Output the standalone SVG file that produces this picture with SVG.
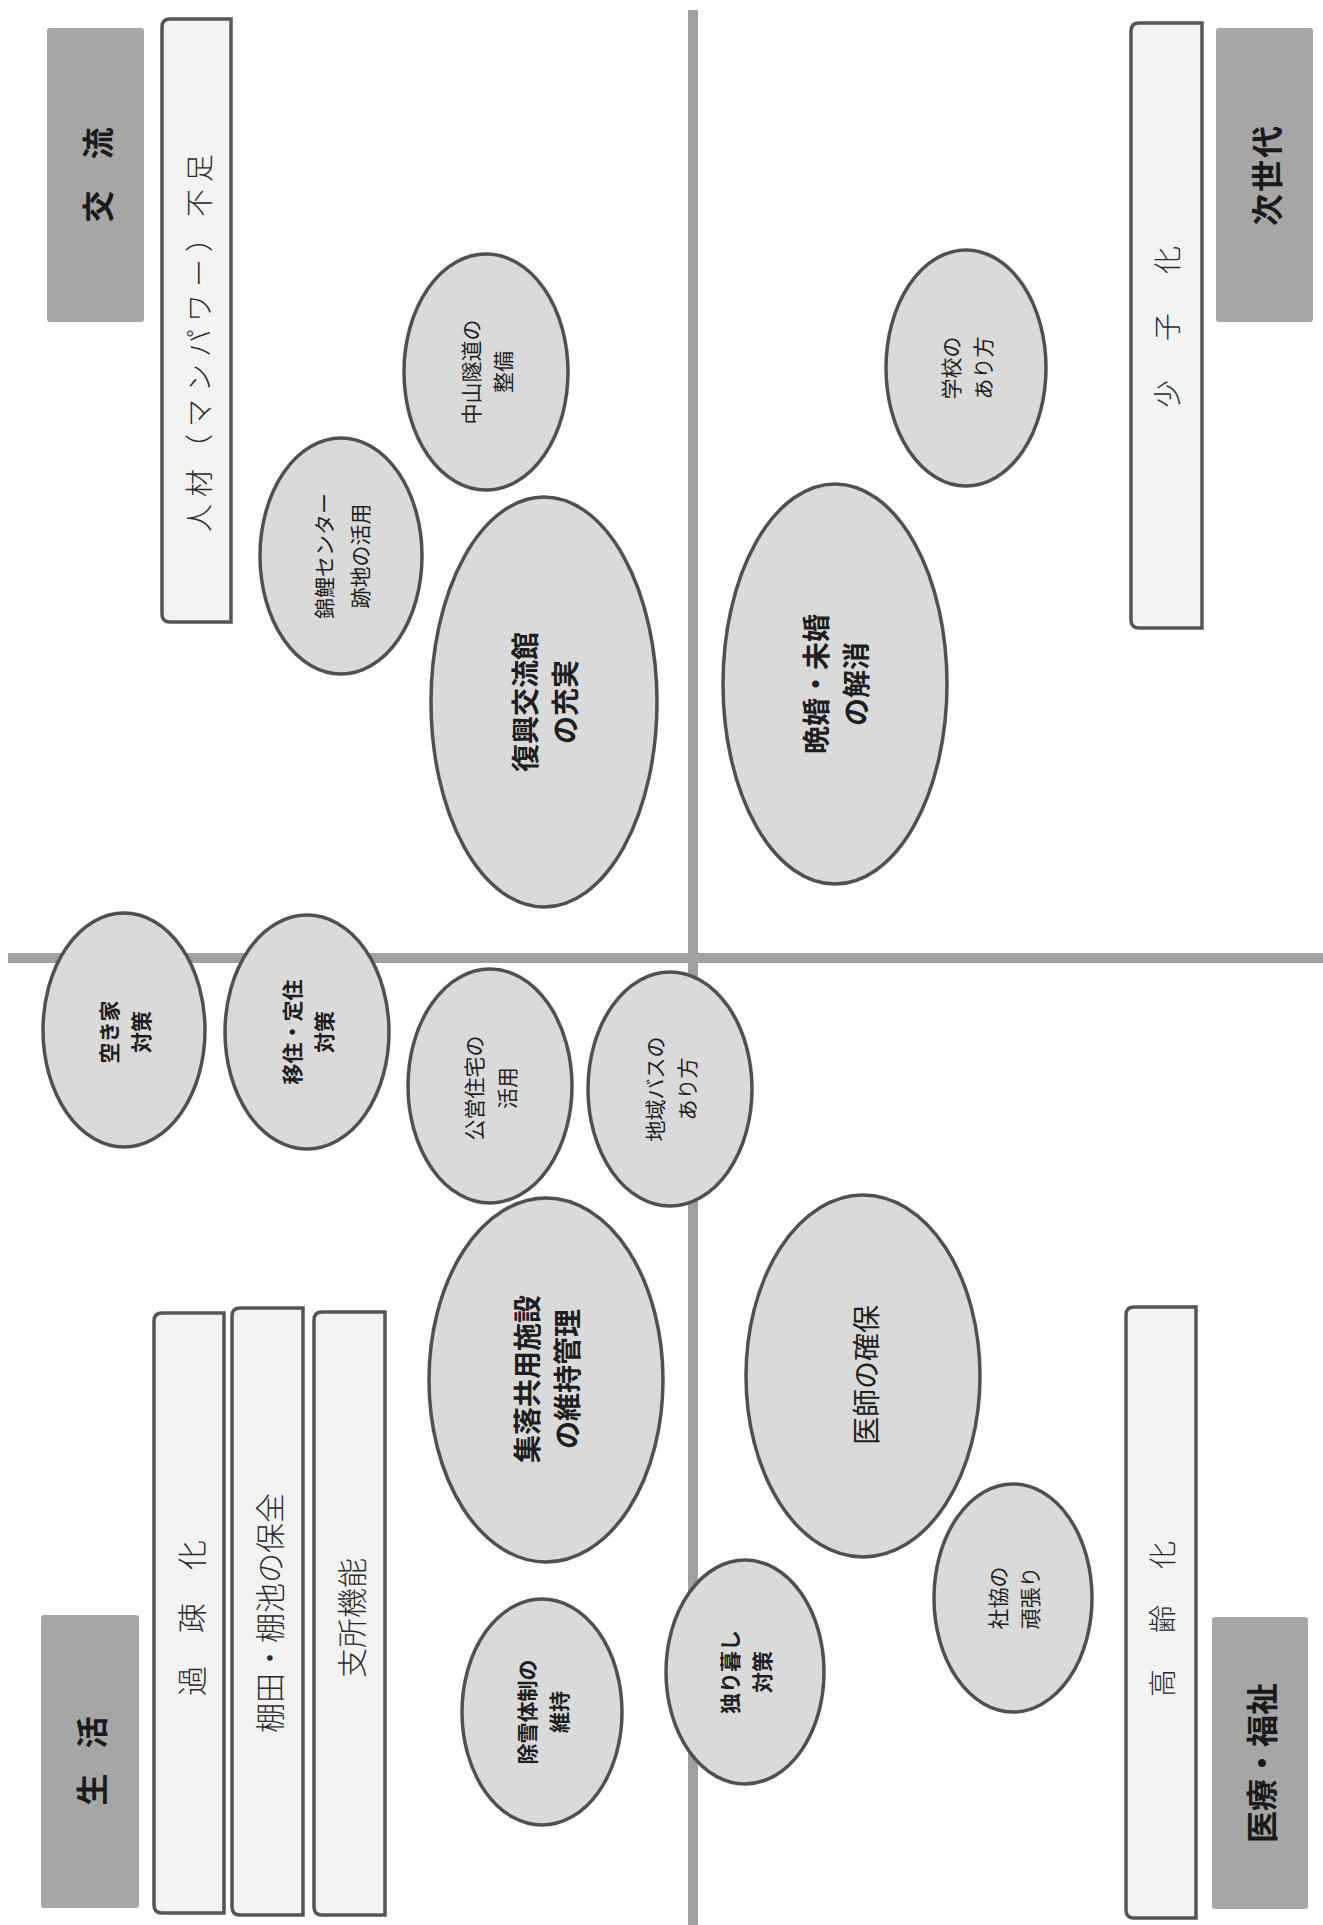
<svg xmlns="http://www.w3.org/2000/svg" width="1323" height="1925" viewBox="0 0 1323 1925">
<style>
.bg{fill:#ffffff}
.div{stroke:#a0a0a0;stroke-width:10;fill:none}
.hdr{fill:#a6a6a6}
.hdrt{font-family:"Noto Sans CJK JP","Noto Sans",sans-serif;font-weight:bold;font-size:32px;fill:#1a1a1a;text-anchor:middle;dominant-baseline:central}
.bar{fill:#f3f3f3;stroke:#555555;stroke-width:3.5}
.bart{font-family:"Noto Sans CJK JP","Noto Sans",sans-serif;font-weight:300;font-size:30px;fill:#2a2a2a;text-anchor:middle;dominant-baseline:central}
.el{fill:#dadada;stroke:#505050;stroke-width:3.5}
.et{font-family:"Noto Sans CJK JP","Noto Sans",sans-serif;font-size:21px;fill:#1e1e1e;text-anchor:middle;dominant-baseline:central}
.eb{font-weight:bold}
.big{font-size:28px}
</style>
<rect class="bg" x="0" y="0" width="1323" height="1925"/>
<g id="connectors">
<line class="div" x1="693" y1="10" x2="693" y2="1925"/>
<line class="div" x1="8" y1="958" x2="1323" y2="958"/>
</g>
<g id="hdr-koryu"><rect class="hdr" x="47" y="28" width="97" height="294" rx="3"/><text class="hdrt" transform="translate(95.5,175) rotate(-90)" letter-spacing="31"><tspan x="15.5" y="0">交流</tspan></text></g>
<g id="hdr-seikatsu"><rect class="hdr" x="41" y="1615" width="98" height="293" rx="3"/><text class="hdrt" transform="translate(90,1761) rotate(-90)" letter-spacing="25"><tspan x="12.5" y="0">生活</tspan></text></g>
<g id="hdr-jisedai"><rect class="hdr" x="1216" y="28" width="97" height="294" rx="3"/><text class="hdrt" transform="translate(1264.5,176) rotate(-90)" letter-spacing="2"><tspan x="1" y="0">次世代</tspan></text></g>
<g id="hdr-iryo"><rect class="hdr" x="1212" y="1617" width="96" height="292" rx="3"/><text class="hdrt" transform="translate(1260,1763) rotate(-90)"><tspan x="0" y="0">医療・福祉</tspan></text></g>
<g id="bar-jinzai"><path class="bar" d="M170,19 H231 V622 H170 Q162,622 162,614 V27 Q162,19 170,19 Z"/><text class="bart" style="font-size:28px" transform="translate(198,343) rotate(-90)" letter-spacing="7"><tspan x="3.5" y="0">人材（マンパワー）不足</tspan></text></g>
<g id="bar-kaso"><path class="bar" d="M162,1313 H224 V1913 H162 Q154,1913 154,1905 V1321 Q154,1313 162,1313 Z"/><text class="bart" transform="translate(190,1618) rotate(-90)" letter-spacing="33"><tspan x="16.5" y="0">過疎化</tspan></text></g>
<g id="bar-tanada"><path class="bar" d="M240,1308 H303 V1915 H240 Q232,1915 232,1907 V1316 Q232,1308 240,1308 Z"/><text class="bart" transform="translate(268,1613) rotate(-90)"><tspan x="0" y="0">棚田・棚池の保全</tspan></text></g>
<g id="bar-shisho"><path class="bar" d="M322,1312 H385 V1915 H322 Q314,1915 314,1907 V1320 Q314,1312 322,1312 Z"/><text class="bart" transform="translate(350,1618) rotate(-90)"><tspan x="0" y="0">支所機能</tspan></text></g>
<g id="bar-shoshika"><path class="bar" d="M1139,23 H1202 V628 H1139 Q1131,628 1131,620 V31 Q1131,23 1139,23 Z"/><text class="bart" style="font-size:28px" transform="translate(1166,327) rotate(-90)" letter-spacing="39"><tspan x="19.5" y="0">少子化</tspan></text></g>
<g id="bar-koreika"><path class="bar" d="M1134,1307 H1196 V1918 H1134 Q1126,1918 1126,1910 V1315 Q1126,1307 1134,1307 Z"/><text class="bart" style="font-size:28px" transform="translate(1161,1619) rotate(-90)" letter-spacing="36"><tspan x="18" y="0">高齢化</tspan></text></g>
<g id="n-akiya"><ellipse class="el" cx="124" cy="1030" rx="81" ry="117"/><text class="et eb" transform="translate(124,1032) rotate(-90)"><tspan x="0" y="-16">空き家</tspan><tspan x="0" y="16">対策</tspan></text></g>
<g id="n-iju"><ellipse class="el" cx="307" cy="1032" rx="82" ry="117"/><text class="et eb" transform="translate(307,1032) rotate(-90)"><tspan x="0" y="-16">移住・定住</tspan><tspan x="0" y="16">対策</tspan></text></g>
<g id="n-koei"><ellipse class="el" cx="490" cy="1086" rx="82" ry="117"/><text class="et" transform="translate(490,1088) rotate(-90)"><tspan x="0" y="-17">公営住宅の</tspan><tspan x="0" y="16">活用</tspan></text></g>
<g id="n-bus"><ellipse class="el" cx="670" cy="1089" rx="82" ry="117"/><text class="et" transform="translate(670,1089) rotate(-90)"><tspan x="0" y="-16">地域バスの</tspan><tspan x="0" y="16">あり方</tspan></text></g>
<g id="n-shuraku"><ellipse class="el" cx="546" cy="1380" rx="117" ry="182"/><text class="et eb big" transform="translate(546,1379) rotate(-90)"><tspan x="0" y="-20">集落共用施設</tspan><tspan x="0" y="20">の維持管理</tspan></text></g>
<g id="n-josetsu"><ellipse class="el" cx="542" cy="1712" rx="80" ry="113"/><text class="et eb" transform="translate(542,1712) rotate(-90)"><tspan x="0" y="-16">除雪体制の</tspan><tspan x="0" y="16">維持</tspan></text></g>
<g id="n-hitori"><ellipse class="el" cx="745" cy="1672" rx="79" ry="112"/><text class="et eb" transform="translate(745,1672) rotate(-90)"><tspan x="0" y="-16">独り暮し</tspan><tspan x="0" y="16">対策</tspan></text></g>
<g id="n-ishi"><ellipse class="el" cx="863" cy="1376" rx="117" ry="181"/><text class="et big" transform="translate(865,1375) rotate(-90)"><tspan x="0" y="0">医師の確保</tspan></text></g>
<g id="n-shakyo"><ellipse class="el" cx="1013" cy="1598" rx="79" ry="114"/><text class="et" transform="translate(1013,1598) rotate(-90)"><tspan x="0" y="-16">社協の</tspan><tspan x="0" y="16">頑張り</tspan></text></g>
<g id="n-bankon"><ellipse class="el" cx="835" cy="684" rx="112" ry="200"/><text class="et eb big" transform="translate(835,684) rotate(-90)"><tspan x="0" y="-20">晩婚・未婚</tspan><tspan x="0" y="20">の解消</tspan></text></g>
<g id="n-gakko"><ellipse class="el" cx="966" cy="368" rx="80" ry="118"/><text class="et" transform="translate(966,368) rotate(-90)"><tspan x="0" y="-16">学校の</tspan><tspan x="0" y="16">あり方</tspan></text></g>
<g id="n-fukko"><ellipse class="el" cx="544" cy="702" rx="113" ry="205"/><text class="et eb big" transform="translate(544,702) rotate(-90)"><tspan x="0" y="-20">復興交流館</tspan><tspan x="0" y="20">の充実</tspan></text></g>
<g id="n-nishikigoi"><ellipse class="el" cx="341" cy="556" rx="81" ry="118"/><text class="et" transform="translate(341,556) rotate(-90)"><tspan x="0" y="-18">錦鯉センター</tspan><tspan x="0" y="18">跡地の活用</tspan></text></g>
<g id="n-nakayama"><ellipse class="el" cx="486" cy="372" rx="82" ry="118"/><text class="et" transform="translate(486,372) rotate(-90)"><tspan x="0" y="-16">中山隧道の</tspan><tspan x="0" y="16">整備</tspan></text></g>
</svg>
